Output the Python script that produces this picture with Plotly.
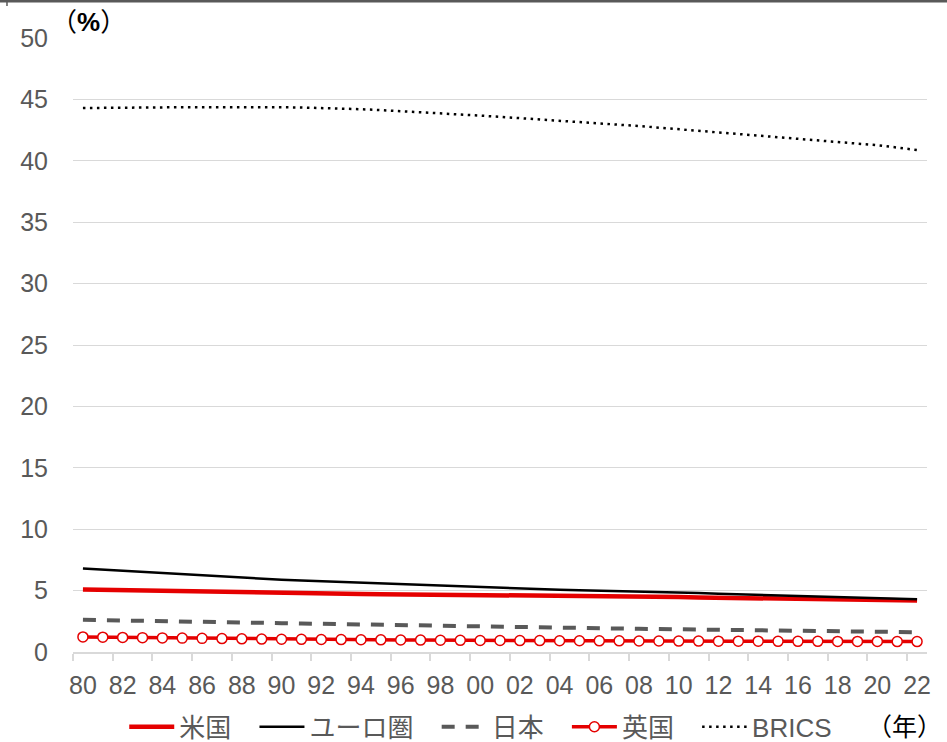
import plotly.graph_objects as go

years = list(range(1980, 2023))
tick_years = list(range(1980, 2023, 2))
tick_labels = [f"{y % 100:02d}" for y in tick_years]

us = [5.08, 5.05, 5.01, 4.97, 4.94, 4.91, 4.88, 4.85, 4.82, 4.79,
      4.77, 4.75, 4.74, 4.73, 4.72, 4.71, 4.70, 4.69, 4.68, 4.67,
      4.65, 4.63, 4.61, 4.59, 4.57, 4.55, 4.54, 4.53, 4.52, 4.50,
      4.48, 4.44, 4.42, 4.40, 4.38, 4.35, 4.32, 4.29, 4.26, 4.24,
      4.22, 4.20, 4.19]
euro = [6.79, 6.70, 6.60, 6.50, 6.40, 6.30, 6.20, 6.11, 6.03, 5.96,
        5.89, 5.82, 5.76, 5.70, 5.64, 5.58, 5.51, 5.44, 5.38, 5.31,
        5.24, 5.18, 5.13, 5.09, 5.06, 5.03, 5.00, 4.97, 4.94, 4.90,
        4.86, 4.80, 4.74, 4.69, 4.64, 4.59, 4.54, 4.49, 4.44, 4.40,
        4.36, 4.32, 4.29]
japan = [2.62, 2.60, 2.58, 2.56, 2.53, 2.50, 2.47, 2.44, 2.41, 2.38,
         2.35, 2.32, 2.29, 2.26, 2.23, 2.20, 2.17, 2.14, 2.11, 2.08,
         2.05, 2.03, 2.01, 1.99, 1.97, 1.95, 1.93, 1.91, 1.89, 1.87,
         1.85, 1.83, 1.81, 1.79, 1.77, 1.75, 1.73, 1.71, 1.69, 1.67,
         1.65, 1.63, 1.61]
uk = [1.23, 1.21, 1.19, 1.17, 1.15, 1.13, 1.11, 1.09, 1.07, 1.05,
      1.04, 1.03, 1.02, 1.01, 1.00, 0.99, 0.98, 0.97, 0.96, 0.95,
      0.94, 0.94, 0.93, 0.93, 0.92, 0.92, 0.91, 0.91, 0.90, 0.90,
      0.89, 0.89, 0.88, 0.88, 0.88, 0.87, 0.87, 0.87, 0.86, 0.86,
      0.86, 0.85, 0.85]
brics = [44.30, 44.32, 44.33, 44.34, 44.35, 44.36, 44.36, 44.37, 44.37, 44.37,
         44.36, 44.34, 44.31, 44.26, 44.20, 44.13, 44.05, 43.96, 43.87, 43.78,
         43.68, 43.58, 43.48, 43.38, 43.28, 43.18, 43.07, 42.95, 42.83, 42.70,
         42.57, 42.44, 42.32, 42.20, 42.08, 41.96, 41.83, 41.70, 41.56, 41.42,
         41.27, 41.08, 40.87]

RED = "#E50000"
GRAY = "#595959"
GRID = "#D9D9D9"
FONT = "Arial, Liberation Sans, Noto Sans CJK JP, sans-serif"
PAD = "\u2002\u2009"  # extra room after each legend entry

fig = go.Figure()
fig.add_trace(go.Scatter(x=years, y=us, name="米国" + PAD, mode="lines",
                         line=dict(color=RED, width=4.5)))
fig.add_trace(go.Scatter(x=years, y=euro, name="ユーロ圏" + PAD, mode="lines",
                         line=dict(color="#000000", width=2.5)))
fig.add_trace(go.Scatter(x=years, y=japan, name="日本" + PAD, mode="lines",
                         line=dict(color=GRAY, width=4, dash="13px,11px")))
fig.add_trace(go.Scatter(x=years, y=uk, name="英国" + PAD, mode="lines+markers",
                         line=dict(color=RED, width=3.5),
                         marker=dict(symbol="circle", size=10, color="white",
                                     line=dict(color=RED, width=1.5))))
fig.add_trace(go.Scatter(x=years, y=brics, name="BRICS", mode="lines",
                         line=dict(color="#000000", width=2.5, dash="2.5px,4.5px")))

fig.update_layout(
    width=947, height=742,
    margin=dict(l=73, r=20, t=38, b=90, autoexpand=False),
    paper_bgcolor="white", plot_bgcolor="white",
    font=dict(family=FONT, size=25, color=GRAY),
    showlegend=True,
    legend=dict(orientation="h", x=0.06, y=-0.122, xanchor="left", yanchor="middle",
                font=dict(size=26, color=GRAY), itemwidth=45,
                bgcolor="rgba(0,0,0,0)", traceorder="normal"),
    xaxis=dict(range=[1979.5, 2022.5], tickmode="array", tickvals=tick_years,
               ticktext=tick_labels, ticks="", showgrid=False,
               showline=True, linecolor=GRID, linewidth=1.5, zeroline=False,
               tickfont=dict(size=25, color=GRAY), ticklabelstandoff=10,
               minor=dict(tick0=1979.5, dtick=2, ticks="outside", ticklen=7,
                          tickcolor=GRID, tickwidth=1.5, showgrid=False)),
    yaxis=dict(range=[0, 50], tickmode="array", tickvals=list(range(0, 51, 5)),
               showgrid=True, gridcolor=GRID, gridwidth=1, zeroline=False,
               showline=False, ticks="", tickfont=dict(size=25, color=GRAY),
               ticklabelstandoff=24),
)

fig.add_annotation(text="（<b>%</b>）", xref="paper", yref="paper", x=0.0176, y=1.026,
                   xanchor="center", yanchor="middle", showarrow=False,
                   font=dict(size=26, color="#000000", family=FONT))
fig.add_annotation(text="（年）", xref="paper", yref="paper", x=0.974, y=-0.122,
                   xanchor="center", yanchor="middle", showarrow=False,
                   font=dict(size=25, color="#000000", family=FONT))

# frame edge along the top of the page
fig.add_shape(type="line", xref="paper", yref="paper", x0=-0.09, x1=1.03,
              y0=1.0603, y1=1.0603, line=dict(color=GRAY, width=3))
fig.add_shape(type="line", xref="paper", yref="paper", x0=-0.0773, x1=-0.0773,
              y0=1.0603, y1=1.052, line=dict(color=GRAY, width=1.5))

fig.write_html("out.html")
